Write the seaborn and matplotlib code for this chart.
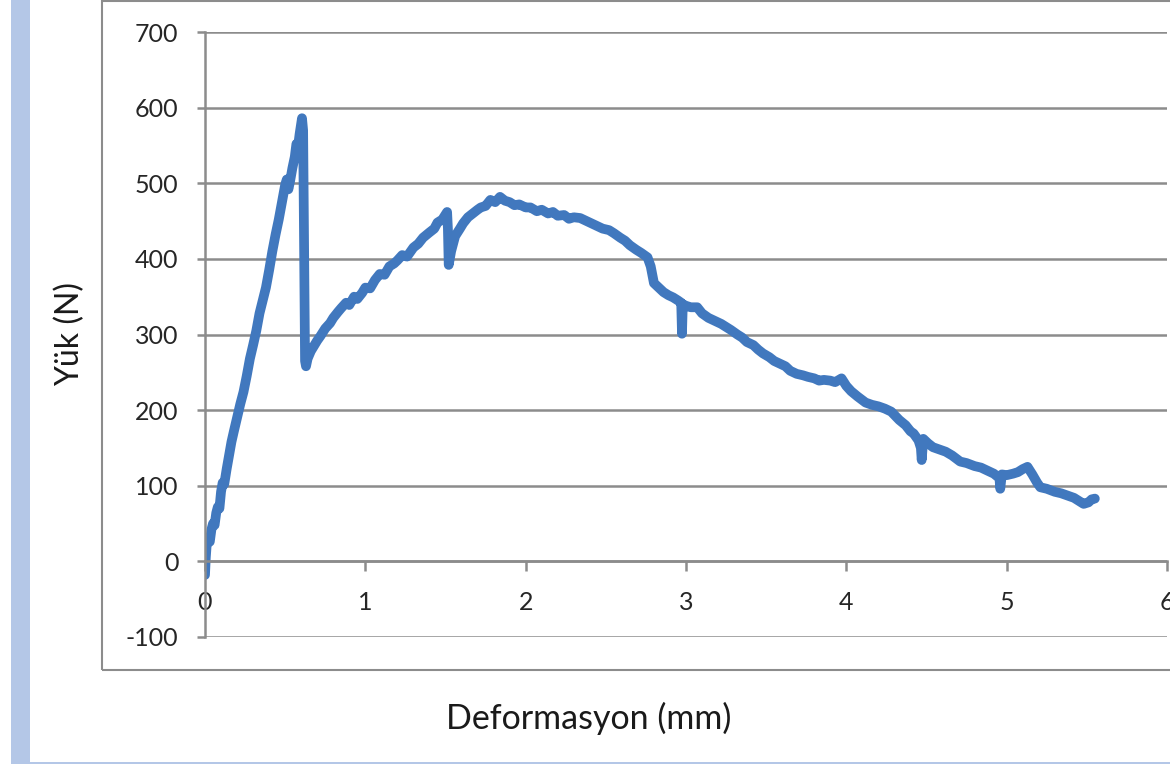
import numpy as np
import pandas as pd
import matplotlib
matplotlib.use("Agg")
import matplotlib.pyplot as plt
import seaborn as sns
from matplotlib.patches import Rectangle

# Veri: deformasyon (mm) ve yuk (N)
deformasyon = [
    0.000, 0.005, 0.010, 0.020, 0.030, 0.040, 0.050, 0.060, 0.070, 0.080,
    0.090, 0.100, 0.110, 0.120, 0.135, 0.150, 0.165, 0.180, 0.200, 0.220,
    0.240, 0.260, 0.280, 0.300, 0.320, 0.340, 0.360, 0.380, 0.400, 0.420,
    0.440, 0.460, 0.480, 0.500, 0.510, 0.520, 0.530, 0.545, 0.560, 0.570,
    0.580, 0.590, 0.605, 0.612, 0.618, 0.624, 0.630, 0.640, 0.660, 0.680,
    0.700, 0.720, 0.750, 0.780, 0.800, 0.830, 0.850, 0.880, 0.900, 0.930,
    0.950, 0.980, 1.000, 1.030, 1.060, 1.090, 1.120, 1.150, 1.180, 1.200,
    1.230, 1.260, 1.300, 1.330, 1.360, 1.400, 1.430, 1.450, 1.480, 1.510,
    1.515, 1.520, 1.535, 1.560, 1.590, 1.610, 1.640, 1.670, 1.700, 1.720,
    1.750, 1.780, 1.810, 1.840, 1.870, 1.900, 1.930, 1.960, 2.000, 2.030,
    2.070, 2.100, 2.140, 2.170, 2.200, 2.240, 2.270, 2.300, 2.340, 2.380,
    2.420, 2.450, 2.480, 2.520, 2.550, 2.590, 2.620, 2.650, 2.690, 2.720,
    2.760, 2.780, 2.800, 2.830, 2.860, 2.890, 2.920, 2.950, 2.970, 2.975,
    2.980, 3.000, 3.030, 3.070, 3.100, 3.140, 3.180, 3.220, 3.250, 3.280,
    3.320, 3.350, 3.380, 3.420, 3.450, 3.480, 3.520, 3.550, 3.580, 3.620,
    3.650, 3.690, 3.730, 3.760, 3.800, 3.830, 3.860, 3.900, 3.930, 3.970,
    4.000, 4.030, 4.070, 4.120, 4.160, 4.200, 4.240, 4.280, 4.330, 4.370,
    4.400, 4.420, 4.450, 4.465, 4.470, 4.480, 4.510, 4.540, 4.580, 4.620,
    4.660, 4.710, 4.750, 4.800, 4.840, 4.880, 4.920, 4.955, 4.960, 4.970,
    5.000, 5.040, 5.070, 5.100, 5.130, 5.160, 5.190, 5.210, 5.250, 5.300,
    5.340, 5.380, 5.420, 5.450, 5.480, 5.510, 5.530, 5.550,
]
yuk = [
    -18, 5, 20, 30, 26, 42, 50, 48, 64, 72,
    70, 92, 104, 102, 122, 140, 158, 172, 190, 208,
    224, 245, 268, 286, 305, 328, 345, 362, 385, 410,
    432, 452, 475, 498, 505, 492, 502, 520, 535, 552,
    548, 565, 586, 570, 420, 265, 258, 268, 278, 285,
    292, 298, 308, 315, 322, 330, 335, 342, 339, 350,
    347, 355, 362, 361, 372, 380, 379, 390, 394, 398,
    405, 403, 415, 420, 428, 435, 440, 448, 452, 462,
    440, 392, 410, 430, 440, 447, 455, 460, 465, 468,
    470, 478, 475, 482, 477, 475, 471, 472, 468, 468,
    463, 465, 460, 462, 457, 458, 453, 455, 454, 450,
    446, 443, 440, 438, 434, 428, 424, 418, 412, 408,
    402, 390, 368, 362, 356, 352, 349, 345, 342, 301,
    340, 338, 336, 336, 328, 322, 318, 314, 310, 306,
    300, 296, 290, 286, 280, 275, 270, 265, 262, 258,
    252, 248, 246, 244, 242, 239, 240, 239, 237, 242,
    232, 225, 218, 210, 207, 205, 202, 198, 187, 180,
    172, 169, 160, 150, 134, 162, 156, 151, 148, 145,
    140, 132, 130, 126, 124, 120, 116, 110, 96, 115,
    114, 116, 118, 122, 125, 115, 104, 98, 96, 92,
    90, 87, 84, 80, 76, 78, 82, 83,
]

y_ticks = [-100, 0, 100, 200, 300, 400, 500, 600, 700]
x_ticks = [0, 1, 2, 3, 4, 5, 6]

df = pd.DataFrame({"Deformasyon": deformasyon, "Yuk": yuk})

sns.set_style("white")
plt.rcParams["font.family"] = ["Lato", "DejaVu Sans"]

W, H = 1170, 764
fig = plt.figure(figsize=(W / 100, H / 100), dpi=100)
fig.patch.set_facecolor("white")

# sol mavi serit ve alt cizgi
fig.patches.append(Rectangle((11 / W, 0), 19 / W, 1, transform=fig.transFigure,
                             facecolor="#b4c7e7", edgecolor="none", zorder=0))
fig.patches.append(Rectangle((11 / W, 0), 1 - 11 / W, 2.5 / H, transform=fig.transFigure,
                             facecolor="#b4c7e7", edgecolor="none", zorder=0))
# grafik alani cercevesi
fig.patches.append(Rectangle((102 / W, (H - 670) / H), 1.2, 669 / H, transform=fig.transFigure,
                             facecolor="none", edgecolor="#8c8c8c", linewidth=1.5, zorder=1))

ax = fig.add_axes([205 / W, (H - 637) / H, 962 / W, 605 / H])
ax.set_facecolor("none")

sns.lineplot(data=df, x="Deformasyon", y="Yuk", ax=ax, color="#4178be",
             linewidth=7, sort=False, estimator=None)

ax.set_xlim(0, 6)
ax.set_ylim(-100, 700)
ax.set_xticks(x_ticks)
ax.set_yticks(y_ticks)
ax.set_xticklabels([str(v) for v in x_ticks])
ax.set_yticklabels([str(v) for v in y_ticks])

ax.grid(axis="y", color="#8c8c8c", linewidth=1.8)
ax.grid(axis="x", visible=False)
ax.set_axisbelow(True)

for s in ["top", "right"]:
    ax.spines[s].set_visible(False)
ax.spines["bottom"].set_position(("data", 0))
ax.spines["bottom"].set_color("#8c8c8c")
ax.spines["bottom"].set_linewidth(1.8)
ax.spines["left"].set_color("#8c8c8c")
ax.spines["left"].set_linewidth(1.8)

ax.tick_params(axis="y", direction="out", length=6, width=1.8, color="#8c8c8c",
               pad=13, labelsize=18, labelcolor="#262626", left=True)
ax.tick_params(axis="x", direction="out", length=7, width=1.8, color="#8c8c8c",
               pad=14, labelsize=18, labelcolor="#262626", bottom=True)

ax.set_xlabel("Deformasyon (mm)", fontsize=24.5, color="#1a1a1a", va="center")
ax.set_ylabel("Yük (N)", fontsize=23, color="#1a1a1a", va="center")
ax.xaxis.set_label_coords((589 - 205) / 962, (637 - 718) / 605)
ax.yaxis.set_label_coords((70 - 205) / 962, 0.5)

fig.savefig("out.png", dpi=100)
